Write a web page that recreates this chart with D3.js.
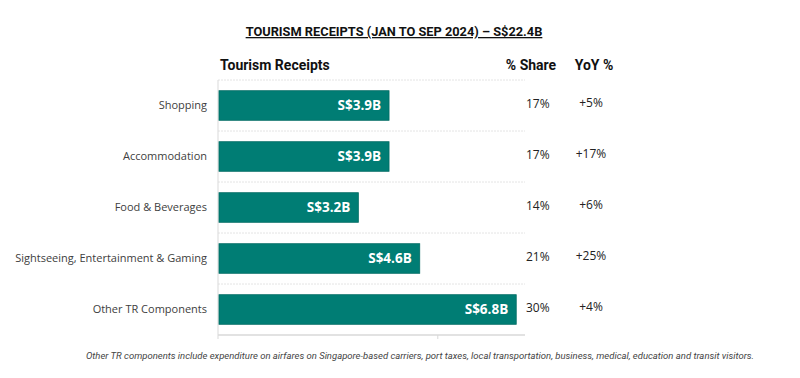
<!DOCTYPE html>
<html>
<head>
<meta charset="utf-8">
<script src="https://cdn.jsdelivr.net/npm/d3@7"></script>
<style>
  body { margin: 0; background: #fff; }
  svg { display: block; }
</style>
</head>
<body>
<div id="chart"></div>
<script>
const categories = ["Shopping", "Accommodation", "Food & Beverages", "Sightseeing, Entertainment & Gaming", "Other TR Components"];
const receipts = [3.9, 3.9, 3.2, 4.6, 6.8];
const shares = ["17%", "17%", "14%", "21%", "30%"];
const yoy = ["+5%", "+17%", "+6%", "+25%", "+4%"];

const WIDTH = 800, HEIGHT = 378;
const margin = { top: 80, left: 218, right: 275, bottom: 43 };

const svg = d3.select("#chart").append("svg")
  .attr("width", WIDTH)
  .attr("height", HEIGHT);

const x = d3.scaleLinear().domain([0, 7]).range([margin.left, WIDTH - margin.right]);
const y = d3.scaleBand().domain(categories).range([margin.top, HEIGHT - margin.bottom]).paddingInner(0.42).paddingOuter(0.21);

// title
svg.append("text")
  .attr("x", 394).attr("y", 36)
  .attr("text-anchor", "middle")
  .style("font-family", "Roboto")
  .style("font-weight", "bold")
  .style("font-size", "12.8px")
  .style("text-decoration", "underline")
  .style("fill", "#111")
  .text("TOURISM RECEIPTS (JAN TO SEP 2024) \u2013 S$22.4B");

// column headers
const header = svg.append("g")
  .style("font-family", "Roboto")
  .style("font-weight", "bold")
  .style("font-size", "14px")
  .style("fill", "#111");
header.append("text").attr("x", 220).attr("y", 70).text("Tourism Receipts");
header.append("text").attr("x", 531).attr("y", 70).attr("text-anchor", "middle").text("% Share");
header.append("text").attr("x", 594).attr("y", 70).attr("text-anchor", "middle").text("YoY %");

// horizontal dotted separators between categories
const step = y.step();
const seps = d3.range(categories.length).map(i => margin.top + i * step);
svg.append("g").selectAll("line")
  .data(seps)
  .enter().append("line")
  .attr("x1", x(0)).attr("x2", x(7))
  .attr("y1", d => d).attr("y2", d => d)
  .style("stroke", "#e4e4e4")
  .style("stroke-dasharray", "2,1");

// bottom axis
const xAxis = svg.append("g")
  .attr("transform", `translate(0, ${HEIGHT - margin.bottom})`)
  .call(d3.axisBottom(x).tickValues([5]).tickSize(4).tickFormat(""));
xAxis.select(".domain").style("stroke", "#d9d9d9").style("stroke-width", 1.5).attr("d", `M${x(0)},0H${x(7)}`);
xAxis.selectAll(".tick line").style("stroke", "#d9d9d9");

// left axis line
svg.append("line")
  .attr("x1", x(0)).attr("x2", x(0))
  .attr("y1", margin.top).attr("y2", HEIGHT - margin.bottom + 4)
  .style("stroke", "#d9d9d9");

// category labels
svg.append("g").selectAll("text")
  .data(categories)
  .enter().append("text")
  .attr("x", 207)
  .attr("y", d => y(d) + y.bandwidth() / 2)
  .attr("dy", "0.35em")
  .attr("text-anchor", "end")
  .style("font-family", "Open Sans")
  .style("font-size", "11px")
  .style("fill", "#404040")
  .text(d => d);

const rows = categories.map((c, i) => ({ cat: c, val: receipts[i], share: shares[i], yoy: yoy[i] }));

const bars = svg.selectAll(".bars")
  .data(rows)
  .enter().append("g")
  .attr("class", "bars");

bars.append("rect")
  .attr("x", x(0) + 1)
  .attr("y", d => y(d.cat))
  .attr("width", d => x(d.val) - x(0) - 1)
  .attr("height", y.bandwidth())
  .style("fill", "#007d74")
  .style("stroke", "#006b63")
  .style("stroke-width", 0.8);

bars.append("text")
  .attr("x", d => x(d.val) - 8)
  .attr("y", d => y(d.cat) + y.bandwidth() / 2)
  .attr("dy", "0.36em")
  .attr("text-anchor", "end")
  .style("font-family", "Open Sans")
  .style("font-weight", "bold")
  .style("font-size", "13.5px")
  .style("fill", "#fff")
  .text(d => `S$${d.val.toFixed(1)}B`);

bars.append("text")
  .attr("x", 526)
  .attr("y", d => y(d.cat) + y.bandwidth() / 2 - 2)
  .attr("dy", "0.35em")
  .style("font-family", "Open Sans")
  .style("font-size", "12px")
  .style("fill", "#222")
  .text(d => d.share);

bars.append("text")
  .attr("x", 591)
  .attr("y", d => y(d.cat) + y.bandwidth() / 2 - 3)
  .attr("dy", "0.35em")
  .attr("text-anchor", "middle")
  .style("font-family", "Open Sans")
  .style("font-size", "12px")
  .style("fill", "#222")
  .text(d => d.yoy);

// footnote
svg.append("text")
  .attr("x", 420).attr("y", 359)
  .attr("text-anchor", "middle")
  .style("font-family", "Roboto")
  .style("font-style", "italic")
  .style("font-size", "9.5px")
  .style("fill", "#444")
  .text("Other TR components include expenditure on airfares on Singapore-based carriers, port taxes, local transportation, business, medical, education and transit visitors.");
</script>
</body>
</html>
